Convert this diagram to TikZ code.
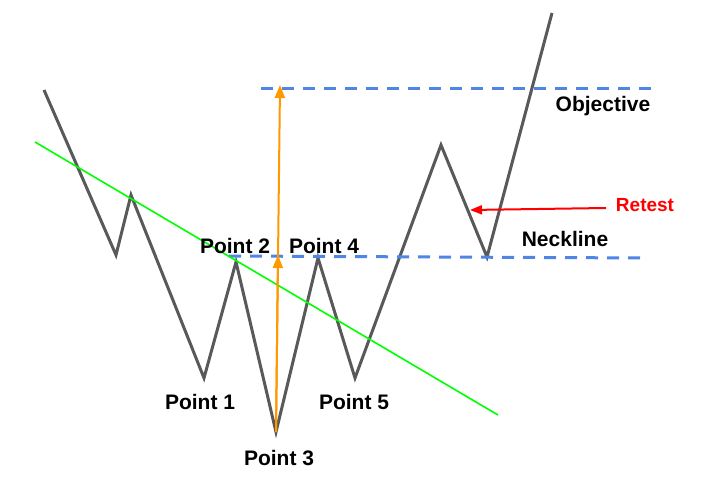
\documentclass[tikz,border=0pt]{standalone}
\usepackage{fontspec}
\setmainfont{Liberation Sans}
\usetikzlibrary{arrows.meta}
\definecolor{zzgray}{HTML}{595959}
\definecolor{zzgreen}{HTML}{00FF00}
\definecolor{zzblue}{HTML}{4F86E6}
\definecolor{zzorange}{HTML}{FF9900}
\definecolor{zzred}{HTML}{FF0000}
\begin{document}
\begin{tikzpicture}[x=1pt,y=-1pt,
  price/.style={draw=zzgray,line width=3pt,line join=miter},
  trend/.style={draw=zzgreen,line width=1.6pt},
  level/.style={draw=zzblue,line width=3pt,dash pattern=on 12pt off 9pt},
  target/.style={draw=zzorange,line width=2pt,-{Triangle[length=13pt,width=10pt]}},
  pointer/.style={draw=zzred,line width=2pt,-{Triangle[length=12pt,width=9pt]}},
  lbl/.style={font=\fontsize{21}{24}\selectfont\bfseries,anchor=base,inner sep=0pt},
  rlbl/.style={font=\fontsize{19}{22}\selectfont\bfseries,text=zzred,anchor=base,inner sep=0pt}]
\useasboundingbox (0,0) rectangle (704,486);
% zigzag points
\coordinate (s) at (44,90);
\coordinate (a) at (116,255);
\coordinate (b) at (131,195);
\coordinate (p1) at (204,378);
\coordinate (p2) at (236,262);
\coordinate (p3) at (276,432);
\coordinate (p4) at (318,258);
\coordinate (p5) at (355,378);
\coordinate (h) at (441,145);
\coordinate (r) at (487,257);
\coordinate (e) at (552,13);
% level lines
\coordinate (n1) at (229,256);
\coordinate (n2) at (647,258);
\coordinate (o1) at (261,89);
\coordinate (o2) at (657,89);
% trend line
\coordinate (g1) at (35,142);
\coordinate (g2) at (498,415);
% arrow targets
\coordinate (tn) at (278,255);
\coordinate (to) at (280,85);
\coordinate (rs) at (606,208);
\coordinate (rt) at (470,210);

\draw[price] (s) -- (a) -- (b) -- (p1) -- (p2) -- (p3) -- (p4) -- (p5) -- (h) -- (r) -- (e);
\draw[level] (n1) -- (n2);
\draw[level] (o1) -- (o2);
\draw[trend] (g1) -- (g2);
\draw[target] (p3) -- (to);
\draw[target] (p3) -- (tn);
\draw[pointer] (rs) -- (rt);

\node[lbl] (l1) at (200,409) {Point 1};
\node[lbl] (l2) at (235,254) {Point 2};
\node[lbl] (l3) at (279,465) {Point 3};
\node[lbl] (l4) at (324,254) {Point 4};
\node[lbl] (l5) at (354,409) {Point 5};
\node[lbl] (lo) at (603,112) {Objective};
\node[lbl] (ln) at (565,247) {Neckline};
\node[rlbl] (lr) at (645,212) {Retest};
\end{tikzpicture}
\end{document}
